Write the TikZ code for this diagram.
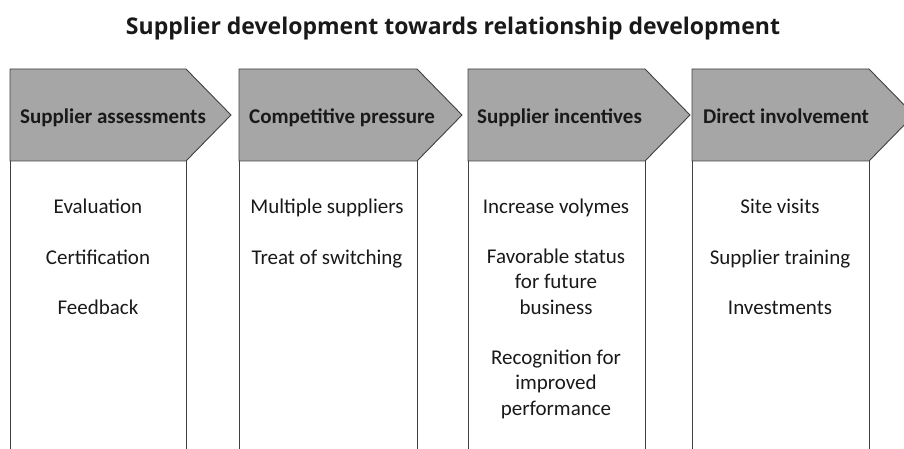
\documentclass[tikz,border=0pt]{standalone}
\usepackage{fontspec}
\setmainfont{Carlito}
\newfontfamily\titlefont{Open Sans}
\definecolor{linec}{HTML}{404040}
\definecolor{hdrfill}{HTML}{A6A6A6}
\begin{document}
\begin{tikzpicture}[x=1pt,y=-1pt,
  hdr/.style={draw=linec, fill=hdrfill, line width=0.9pt, line join=miter},
  hdrtext/.style={anchor=base west, font=\bfseries\fontsize{21}{25}\selectfont, inner sep=0pt, text=black!90},
  item/.style={align=center, font=\fontsize{21}{25.3}\selectfont, anchor=base, inner sep=0pt, text=black!90},
  side/.style={draw=linec, line width=0.9pt}]
\useasboundingbox (0,0) rectangle (904,449);
\clip (0,0) rectangle (904,449);
\node[font=\titlefont\bfseries\fontsize{23}{28}\selectfont, anchor=base, inner sep=0pt, text=black!90] (title) at (453,35) {Supplier development towards relationship development};
% column shapes
\foreach \L/\R/\n in {10/186/a, 239/417/b, 468/645/c, 692/869/d}{
  \draw[hdr] (\L,69) -- (\R,69) -- (\R+45,115) -- (\R,161) -- (\L,161) -- cycle;
  \coordinate (\n bl) at (\L,449);
  \coordinate (\n br) at (\R,449);
  \coordinate (\n tl) at (\L,161);
  \coordinate (\n tr) at (\R,161);
  \draw[side] (\n tl) -- (\n bl);
  \draw[side] (\n tr) -- (\n br);
}
% headers
\node[hdrtext] (ha) at (20,123.5) {Supplier assessments};
\node[hdrtext] (hb) at (249,123.5) {Competitive pressure};
\node[hdrtext] (hc) at (477,123.5) {Supplier incentives};
\node[hdrtext] (hd) at (703,123.5) {Direct involvement};
% column 1
\node[item] (a1) at (98,213) {Evaluation};
\node[item] (a2) at (98,264) {Certification};
\node[item] (a3) at (98,314) {Feedback};
% column 2
\node[item] (b1) at (327,213) {Multiple suppliers};
\node[item] (b2) at (327,264) {Treat of switching};
% column 3 (base anchor = last line)
\node[item] (c1) at (556,213) {Increase volymes};
\node[item] (c2) at (556,314) {Favorable status\\for future\\business};
\node[item] (c3) at (556,415) {Recognition for\\improved\\performance};
% column 4
\node[item] (d1) at (780,213) {Site visits};
\node[item] (d2) at (780,264) {Supplier training};
\node[item] (d3) at (780,314) {Investments};
\end{tikzpicture}
\end{document}
